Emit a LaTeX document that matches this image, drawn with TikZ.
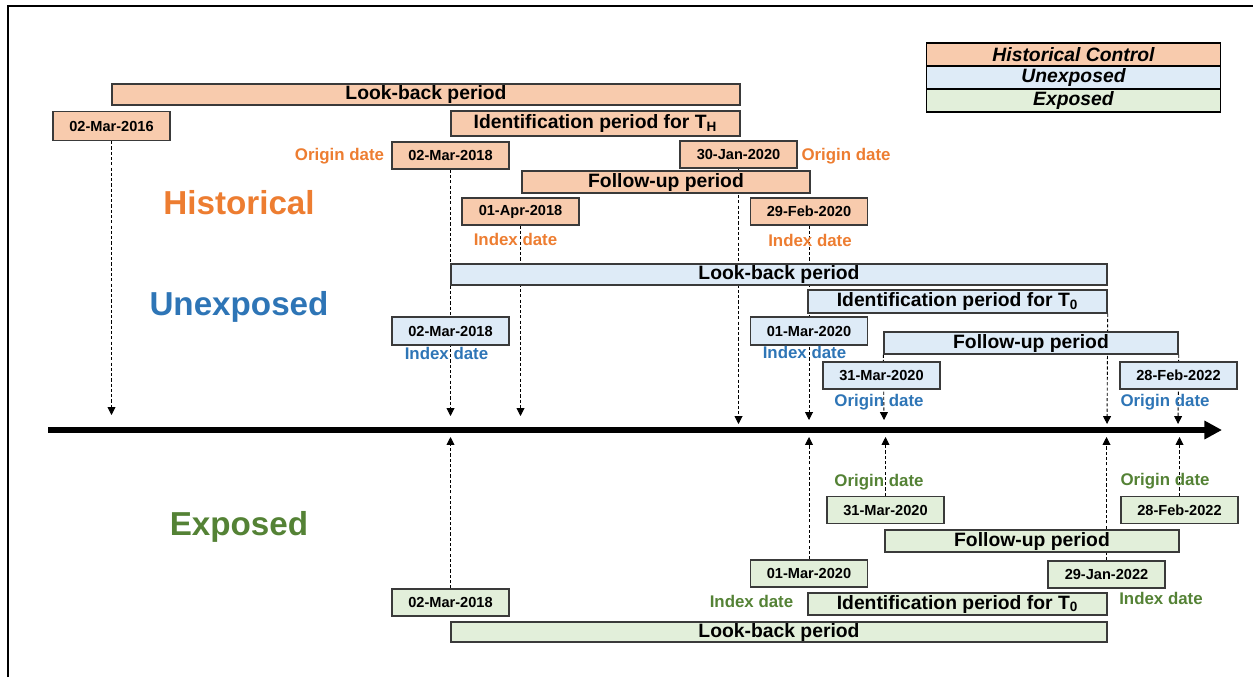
\documentclass[tikz,border=0pt]{standalone}
\usepackage{fontspec}
\setmainfont{Liberation Sans}
\usetikzlibrary{arrows.meta,backgrounds}
\definecolor{histfill}{HTML}{F8CBAD}
\definecolor{unexpfill}{HTML}{DEEBF7}
\definecolor{expofill}{HTML}{E2EFDA}
\definecolor{histtext}{HTML}{ED7D31}
\definecolor{unexptext}{HTML}{2E75B6}
\definecolor{expotext}{HTML}{548235}
\definecolor{boxedge}{HTML}{3A3A3A}
\tikzset{
  box/.style={draw=boxedge, line width=0.8pt, inner sep=0pt},
  boxsize/.style args={#1x#2}{minimum width=#1*0.02cm, minimum height=#2*0.02cm},
  datebox/.style={box, boxsize=117x27, font=\fontsize{8.3}{9}\selectfont\bfseries},
  period/.style={box, font=\fontsize{11}{12}\selectfont\bfseries},
  hist/.style={fill=histfill},
  unexp/.style={fill=unexpfill},
  expo/.style={fill=expofill},
  datelabel/.style={inner sep=0pt, font=\fontsize{9.6}{10}\selectfont\bfseries},
  group/.style={inner sep=0pt, font=\fontsize{18.9}{20}\selectfont\bfseries},
  legend/.style={draw=black, line width=0.9pt, inner sep=0pt, boxsize=294x23,
    font=\fontsize{11}{12}\selectfont\bfseries\itshape},
  marker/.style={dash pattern=on 1.8pt off 1.2pt, line width=0.5pt, -{Triangle[length=4.5pt,width=4.5pt]}},
}
\begin{document}
\begin{tikzpicture}[x=0.02cm, y=-0.02cm]
      \useasboundingbox (0,0) rectangle (1253,677);
      \draw[line width=0.6pt] (8,677) -- (8,6) -- (1253,6);

      % legend
      \node[legend, hist] at (1073.5,54.5) (l_hist) {Historical Control};
      \node[legend, unexp] at (1073.5,77.5) (l_unexp) {Unexposed};
      \node[legend, expo] at (1073.5,100.5) (l_expo) {Exposed};

      % historical control
      \node[group, text=histtext] at (239,203) (g_hist) {Historical};
      \node[period, hist, boxsize=628x21] at (426,94.5) (h_look) {Look-back period};
      \node[datebox, hist, boxsize=117x29] at (111.5,126) (h_d1) {02-Mar-2016};
      \node[period, hist, boxsize=289x25] at (595.5,123.5) (h_ident) {Identification period for T\textsubscript{H}};
      \node[datebox, hist] at (450.5,155.5) (h_d2) {02-Mar-2018};
      \node[datebox, hist] at (738.5,154.5) (h_d3) {30-Jan-2020};
      \node[period, hist, boxsize=288x22] at (666,182) (h_follow) {Follow-up period};
      \node[datebox, hist] at (520.5,211.5) (h_d4) {01-Apr-2018};
      \node[datebox, hist] at (809,211.5) (h_d5) {29-Feb-2020};
      \node[datelabel, text=histtext] at (339.5,156) (h_orig1) {Origin date};
      \node[datelabel, text=histtext] at (846,156) (h_orig2) {Origin date};
      \node[datelabel, text=histtext] at (515.5,239) (h_idx1) {Index date};
      \node[datelabel, text=histtext] at (810,240) (h_idx2) {Index date};

      % unexposed
      \node[group, text=unexptext] at (239,307) (g_unexp) {Unexposed};
      \node[period, unexp, boxsize=656x21] at (779,274.5) (u_look) {Look-back period};
      \node[period, unexp, boxsize=299x23] at (957.5,301.5) (u_ident) {Identification period for T\textsubscript{0}};
      \node[datebox, unexp, boxsize=117x28] at (450.5,331) (u_d1) {02-Mar-2018};
      \node[datebox, unexp, boxsize=117x28] at (809,331) (u_d2) {01-Mar-2020};
      \node[period, unexp, boxsize=294x22] at (1031,343) (u_follow) {Follow-up period};
      \node[datebox, unexp] at (881.5,375.5) (u_d3) {31-Mar-2020};
      \node[datebox, unexp] at (1178.5,375.5) (u_d4) {28-Feb-2022};
      \node[datelabel, text=unexptext] at (446.5,353) (u_idx1) {Index date};
      \node[datelabel, text=unexptext] at (804.5,352) (u_idx2) {Index date};
      \node[datelabel, text=unexptext] at (879,402) (u_orig1) {Origin date};
      \node[datelabel, text=unexptext] at (1165,402) (u_orig2) {Origin date};

      % exposed
      \node[group, text=expotext] at (239,527) (g_expo) {Exposed};
      \node[datebox, expo] at (885.5,510) (e_d3) {31-Mar-2020};
      \node[datebox, expo] at (1179.5,510) (e_d4) {28-Feb-2022};
      \node[period, expo, boxsize=294x22] at (1032,541) (e_follow) {Follow-up period};
      \node[datebox, expo] at (809,573.5) (e_d2) {01-Mar-2020};
      \node[datebox, expo] at (1106.5,574.5) (e_d5) {29-Jan-2022};
      \node[period, expo, boxsize=299x22] at (957.5,604) (e_ident) {Identification period for T\textsubscript{0}};
      \node[datebox, expo] at (450.5,602.5) (e_d1) {02-Mar-2018};
      \node[period, expo, boxsize=656x20] at (779,632) (e_look) {Look-back period};
      \node[datelabel, text=expotext] at (879,482) (e_orig1) {Origin date};
      \node[datelabel, text=expotext] at (1165,481) (e_orig2) {Origin date};
      \node[datelabel, text=expotext] at (751.5,601) (e_idx1) {Index date};
      \node[datelabel, text=expotext] at (1161,598) (e_idx2) {Index date};

      % time axis
      \coordinate (ax_start) at (48,430);
      \coordinate (ax_end) at (1222,430);
      \draw[line width=3pt, -{Triangle[length=10pt,width=10pt]}] (ax_start) -- (ax_end);

      \coordinate (top1) at (111.5,415);
      \coordinate (top2) at (450.5,416);
      \coordinate (top3) at (520.5,416);
      \coordinate (top4) at (738.5,424);
      \coordinate (top5) at (809,420);
      \coordinate (top6) at (884,420);
      \coordinate (top7) at (1107,424);
      \coordinate (top8) at (1178,424);

      \coordinate (bot1) at (450.5,437);
      \coordinate (bot2) at (809,437);
      \coordinate (bot3) at (885.5,437);
      \coordinate (bot4) at (1106.5,437);
      \coordinate (bot5) at (1179.5,437);

      \begin{scope}[on background layer]
      \draw[marker] (h_d1.south) -- (top1);
      \draw[marker] (h_d2.south) -- (top2);
      \draw[marker] (h_d4.south) -- (top3);
      \draw[marker] (h_d3.south) -- (top4);
      \draw[marker] (h_d5.south) -- (top5);
      \draw[marker] (u_follow.south west) -- (top6);
      \draw[marker] (u_ident.south east) -- (top7);
      \draw[marker] (u_follow.south east) -- (top8);

      \draw[marker] (e_d1.north) -- (bot1);
      \draw[marker] (e_d2.north) -- (bot2);
      \draw[marker] (e_d3.north) -- (bot3);
      \draw[marker] (e_d5.north) -- (bot4);
      \draw[marker] (e_d4.north) -- (bot5);
      \end{scope}
\end{tikzpicture}
\end{document}
